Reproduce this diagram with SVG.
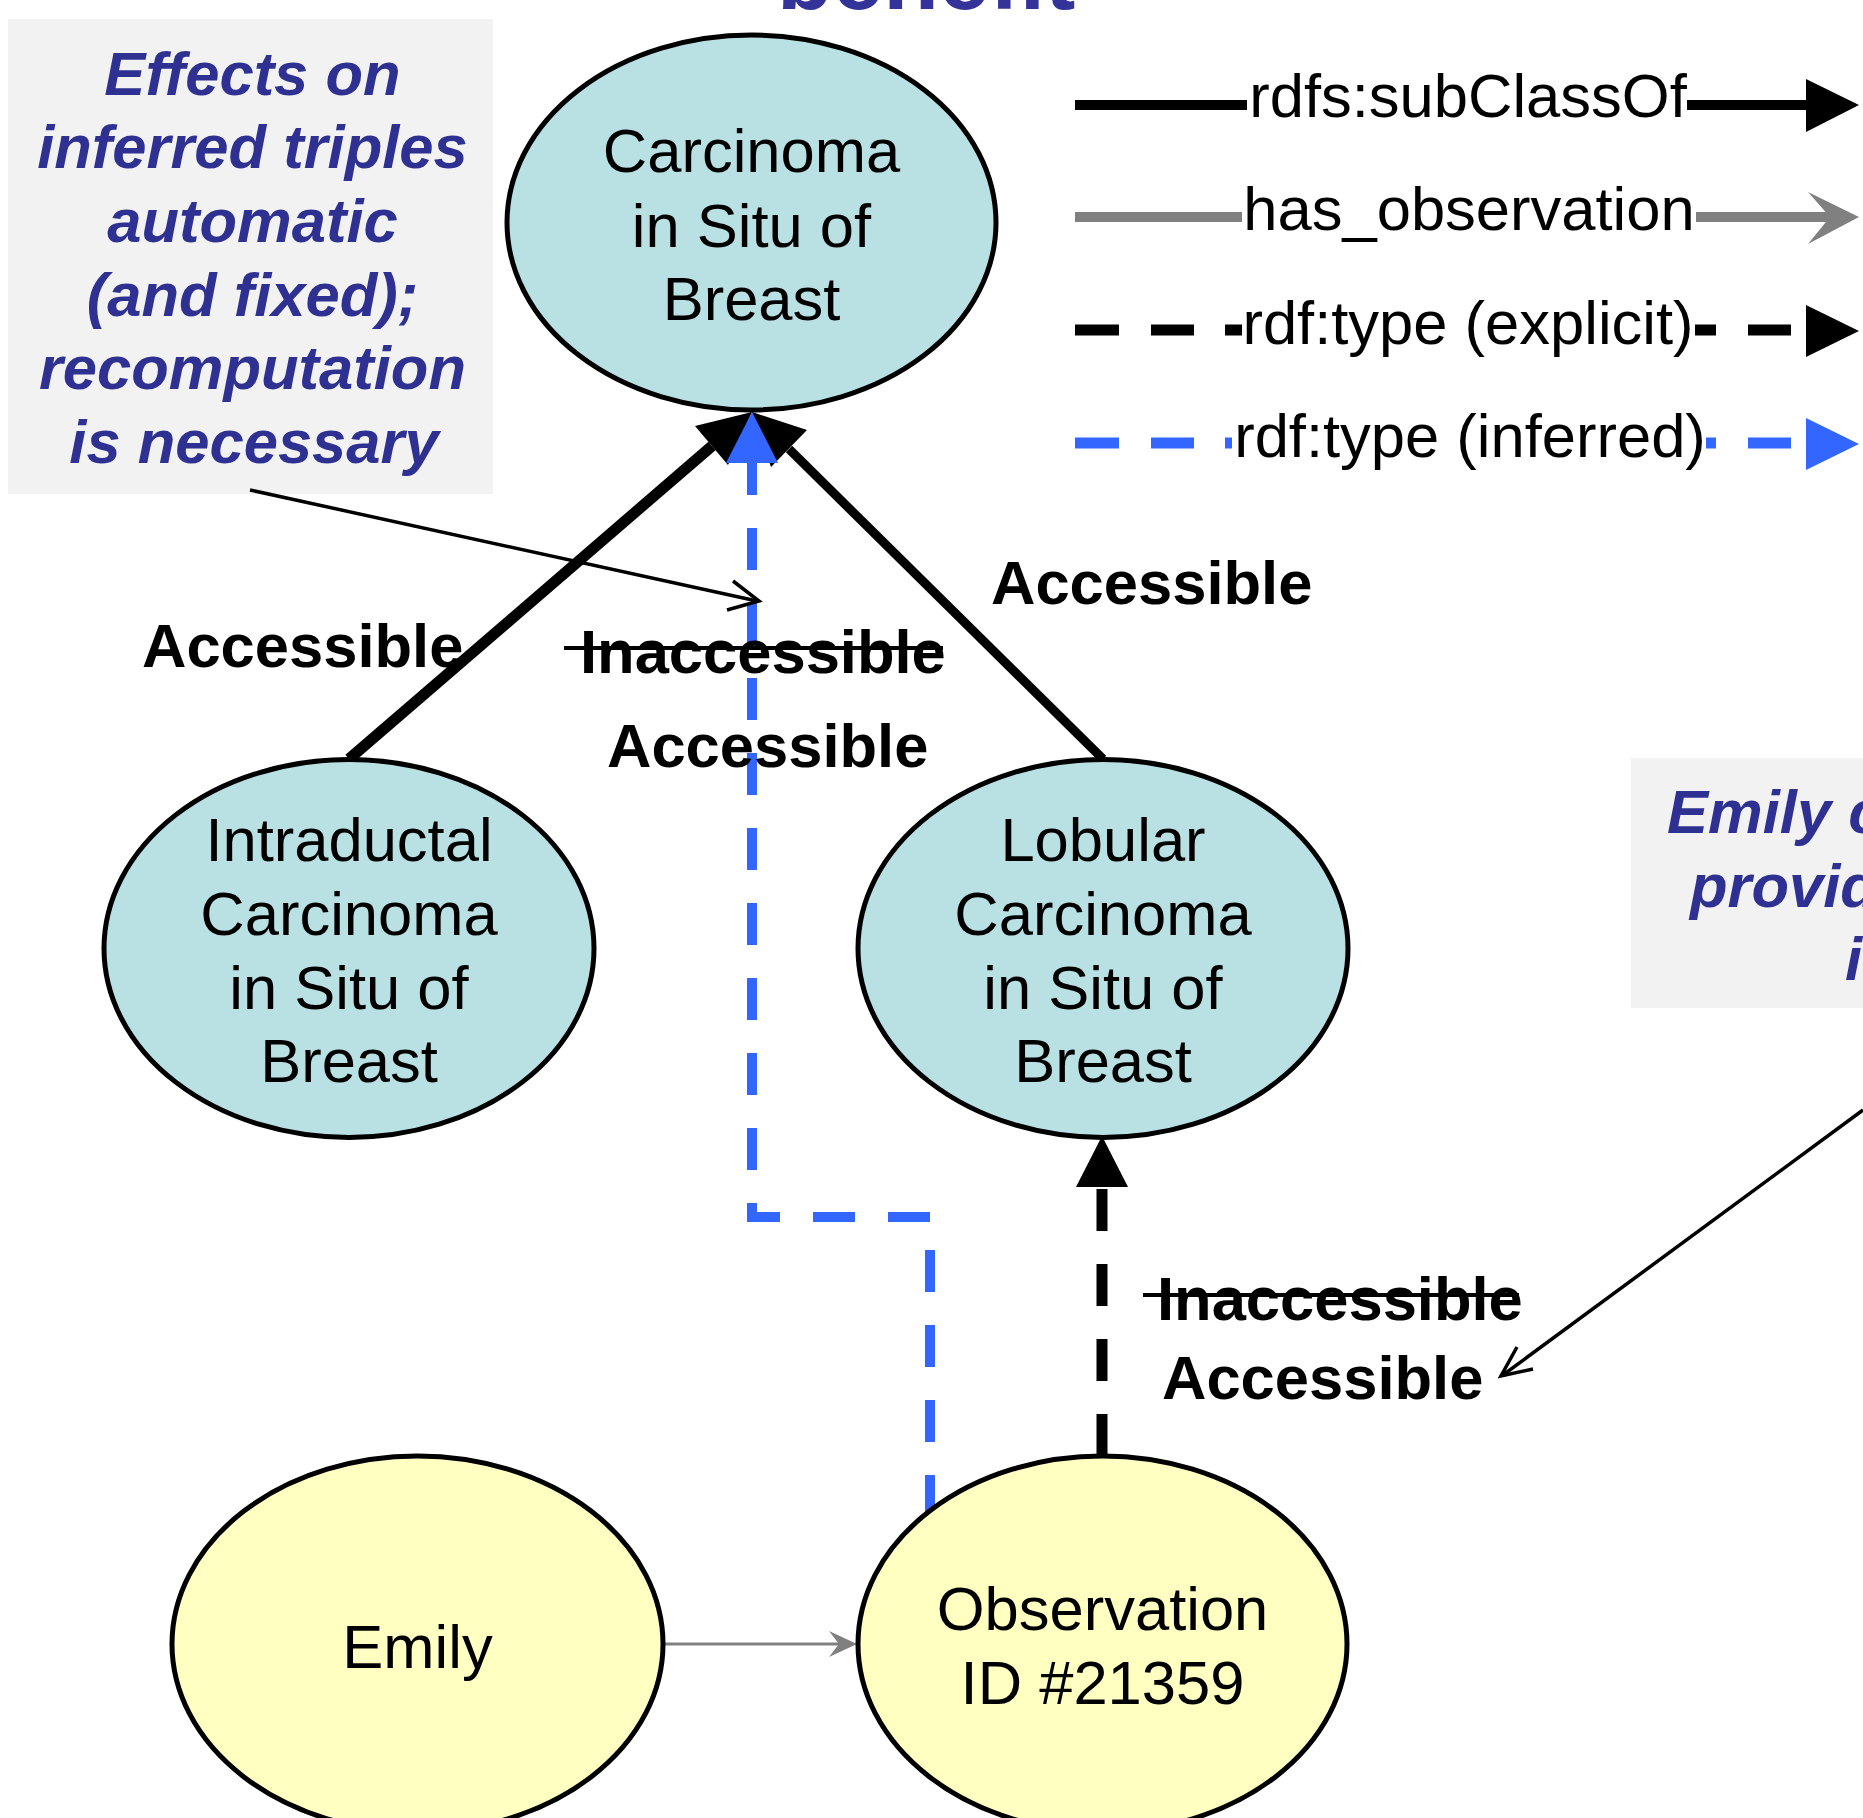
<svg xmlns="http://www.w3.org/2000/svg" width="1863" height="1818" viewBox="0 0 1863 1818">
<defs>
<style>
.nb{fill:#b9e0e3;stroke:#000;stroke-width:5}
.ny{fill:#ffffc2;stroke:#000;stroke-width:5}
.t{font-family:"Liberation Sans",Arial,sans-serif;font-size:61.5px;fill:#000}
.c{text-anchor:middle}
.b{font-weight:bold}
.note{font-family:"Liberation Sans",Arial,sans-serif;font-size:61.5px;font-weight:bold;font-style:italic;fill:#2e3192}
.title{font-family:"Liberation Sans",Arial,sans-serif;font-size:91px;font-weight:bold;fill:#333399}
.blk{stroke:#000;fill:none}
.blu{stroke:#3366ff;fill:none}
.gry{stroke:#808080;fill:none}
.strike{stroke:#000;stroke-width:4}
</style>
</defs>
<rect width="1863" height="1818" fill="#fff"/>
<text id="title" class="title" x="777" y="9">benefit</text>

<g id="note-left">
<rect x="8" y="19" width="485" height="475" fill="#f2f2f2"/>
<text class="note" text-anchor="middle">
<tspan x="261" y="95">Effects on</tspan>
<tspan x="261" y="168">inferred triples</tspan>
<tspan x="261" y="242">automatic</tspan>
<tspan x="261" y="316">(and fixed);</tspan>
<tspan x="261" y="389">recomputation</tspan>
<tspan x="254" y="463">is necessary</tspan>
</text>
</g>

<g id="note-right">
<rect x="1631" y="758" width="240" height="250" fill="#f2f2f2"/>
<text class="note"><tspan x="1667" y="833">Emily c</tspan><tspan x="1690" y="907">provid</tspan><tspan x="1845" y="980">i</tspan></text>
</g>

<g id="legend">
<line class="blk" x1="1075" y1="105" x2="1247" y2="105" stroke-width="10"/>
<text class="t c" x="1468" y="117">rdfs:subClassOf</text>
<line class="blk" x1="1687" y1="105" x2="1810" y2="105" stroke-width="10"/>
<polygon points="1806,79 1859,105 1806,132" fill="#000"/>

<line class="gry" x1="1075" y1="217" x2="1242" y2="217" stroke-width="10"/>
<text class="t c" x="1469" y="230">has_observation</text>
<line class="gry" x1="1696" y1="217" x2="1830" y2="217" stroke-width="10"/>
<polygon points="1808,192 1859,217 1808,244 1830,217" fill="#808080"/>

<path class="blk" stroke-width="11" d="M1075,330H1119M1151,330H1194M1225,330H1242M1695,330H1716M1748,330H1791"/>
<text class="t c" x="1468" y="344">rdf:type (explicit)</text>
<polygon points="1806,305 1859,331 1806,357" fill="#000"/>

<path class="blu" stroke-width="11" d="M1075,443H1119M1151,443H1194M1225,443H1232M1706,443H1716M1748,443H1791"/>
<text class="t c" x="1470" y="457">rdf:type (inferred)</text>
<polygon points="1806,418 1859,444 1806,470" fill="#3366ff"/>
</g>

<g id="connectors">
<line class="blk" x1="349" y1="759" x2="712" y2="446" stroke-width="11"/>
<polygon points="752,412 728,465 695,426" fill="#000"/>
<line class="blk" x1="1103" y1="759" x2="789" y2="449" stroke-width="9"/>
<polygon points="752,412 807,430 771,467" fill="#000"/>
<path class="blu" d="M752,453V1217H930V1512" stroke-width="10" stroke-dasharray="42 33"/>
<polygon points="752,412 778,463 726,463" fill="#3366ff"/>
<line class="blk" x1="1102" y1="1456" x2="1102" y2="1189" stroke-width="11" stroke-dasharray="42 33"/>
<polygon points="1102,1136 1128,1187 1076,1187" fill="#000"/>
<line class="gry" x1="665" y1="1644" x2="845" y2="1644" stroke-width="3"/>
<polygon points="829,1631 857,1644 829,1657 839,1644" fill="#808080"/>
<line class="blk" x1="250" y1="490" x2="757" y2="601" stroke-width="3.5"/>
<polyline class="blk" points="733,581 759,601 727,610" stroke-width="3.5"/>
<line class="blk" x1="1863" y1="1110" x2="1503" y2="1375" stroke-width="3.5"/>
<polyline class="blk" points="1517,1347 1501,1376 1533,1369" stroke-width="3.5"/>
</g>

<g id="node-carcinoma">
<ellipse class="nb" cx="751.5" cy="222.5" rx="244.5" ry="187.5"/>
<text class="t c"><tspan x="751.5" y="172">Carcinoma</tspan><tspan x="751.5" y="247">in Situ of</tspan><tspan x="751.5" y="320">Breast</tspan></text>
</g>
<g id="node-intraductal">
<ellipse class="nb" cx="349" cy="948.5" rx="245" ry="189"/>
<text class="t c"><tspan x="349" y="861">Intraductal</tspan><tspan x="349" y="935">Carcinoma</tspan><tspan x="349" y="1009">in Situ of</tspan><tspan x="349" y="1082">Breast</tspan></text>
</g>
<g id="node-lobular">
<ellipse class="nb" cx="1103" cy="948.5" rx="245" ry="189"/>
<text class="t c"><tspan x="1103" y="861">Lobular</tspan><tspan x="1103" y="935">Carcinoma</tspan><tspan x="1103" y="1009">in Situ of</tspan><tspan x="1103" y="1082">Breast</tspan></text>
</g>
<g id="node-emily">
<ellipse class="ny" cx="417.5" cy="1644" rx="245.5" ry="188"/>
<text class="t c" x="417.5" y="1668">Emily</text>
</g>
<g id="node-observation">
<ellipse class="ny" cx="1102.5" cy="1644" rx="244.5" ry="188"/>
<text class="t c"><tspan x="1102.5" y="1630">Observation</tspan><tspan x="1102.5" y="1704">ID #21359</tspan></text>
</g>

<g id="labels">
<text class="t b" x="142" y="667">Accessible</text>
<text class="t b" x="580" y="673">Inaccessible</text>
<line class="strike" x1="564" y1="648" x2="943" y2="648"/>
<text class="t b" x="607" y="767">Accessible</text>
<text class="t b" x="991" y="604">Accessible</text>
<text class="t b" x="1157" y="1320">Inaccessible</text>
<line class="strike" x1="1143" y1="1295" x2="1519" y2="1295"/>
<text class="t b" x="1162" y="1399">Accessible</text>
</g>
</svg>
